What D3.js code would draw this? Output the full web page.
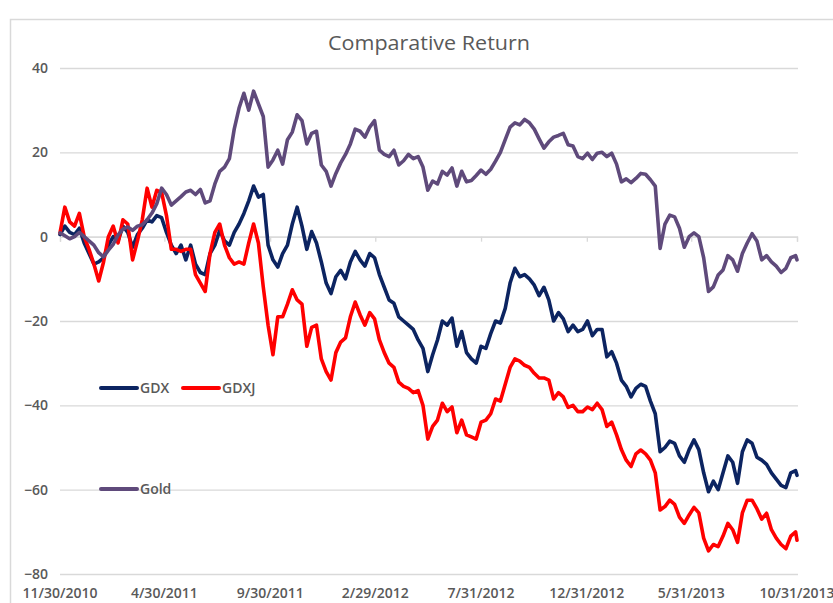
<!DOCTYPE html>
<html>
<head>
<meta charset="utf-8">
<script src="https://cdn.jsdelivr.net/npm/d3@7"></script>
<style>
  html, body { margin: 0; padding: 0; background: #ffffff; }
  svg { display: block; }
  text { font-family: "Open Sans", "Noto Sans", sans-serif; fill: #595959; }
</style>
</head>
<body>
<svg id="chart" width="833" height="603"></svg>
<script>
// ---- Data (weekly readings, % return) ----
const startDate = new Date(2010, 10, 30);
const endDate = new Date(2013, 9, 31);
const dates = d3.range(153).map(i => d3.timeDay.offset(startDate, 7 * i)).concat([endDate]);

const gdx = [
  0.5, 2.5, 1, 0.5, 2, -1.5, -4, -6.5, -6, -5,
  -2, 0, -1, 2.5, 1, -2.5, 0.5, 2, 4, 3.5,
  5, 4.5, 1, -2, -4, -2, -5.5, -2, -6.5, -8.5,
  -9, -4, -2, 1.5, -1, -2, 1, 3, 5.5, 8.5,
  12, 9.4, 10, -2, -5.5, -7.2, -4, -2, 3, 7,
  2.5, -3, 1.2, -1.5, -6, -11, -13.5, -9.5, -8, -10,
  -6, -3.5, -5.5, -7, -4, -5, -9, -12, -15, -15.8,
  -19, -20, -21, -22, -24.5, -26.5, -32, -28, -24.5, -20,
  -21, -19.3, -26, -22.5, -27.5, -29, -30, -26, -26.5, -23,
  -20, -20.5, -17, -11, -7.5, -9.5, -9, -10, -11.5, -14,
  -12, -15, -20, -18, -19.5, -22.5, -21, -22.5, -22, -20,
  -23.5, -22, -22, -28.5, -27.3, -30, -34, -35.5, -38, -36,
  -35, -35.5, -39, -42, -51, -50, -48.5, -49, -52, -53.5,
  -50.5, -48.2, -50.5, -56, -60.5, -58, -60, -56, -52, -53.5,
  -58.5, -51, -48.2, -49, -52.3, -53, -54, -56, -57.5, -59,
  -59.5, -56, -55.5, -56.6
];

const gdxj = [
  0.9, 7, 3.5, 2.5, 5.5, 0, -3, -6.5, -10.5, -6,
  0, 2.5, -1.5, 4, 3, -5.5, -1, 4, 11.5, 7,
  11, 10.5, 5, -3, -3, -3.5, -3, -3, -9, -11,
  -13, -4, 1, 3, -2, -5, -6.5, -6, -6.5, -1.5,
  3, -1.5, -11.9, -21, -28, -19, -19, -16, -12.6, -15,
  -16, -26, -21.5, -21, -29, -32, -34, -27.5, -25, -24,
  -19, -15.5, -18.5, -21, -18, -19.5, -24.5, -27.5, -30, -31,
  -34.5, -35.5, -36, -37, -36.5, -40, -48, -45, -43.5, -39.5,
  -41.5, -40.4, -46.5, -43.5, -47, -47.5, -48, -44, -43.5, -42,
  -38.5, -39, -35, -31, -29, -29.5, -30.5, -31, -32.4, -33.5,
  -33.5, -34, -38.5, -37, -38, -40.5, -40, -41.5, -41.5, -40.4,
  -41, -39.5, -41, -45, -44, -47, -50.5, -53, -54.5, -51.5,
  -50.6, -51.5, -53, -56, -64.8, -64, -62.5, -63.5, -66.5, -68,
  -66, -64.2, -65.5, -71.5, -74.5, -73, -73.5, -71, -68, -69.5,
  -72.5, -65.5, -62.5, -62.5, -64.5, -67, -65.6, -69.5, -71.5, -73,
  -74, -71, -70, -72
];

const gold = [
  0.9, 0.2, -0.5, 0, 1, 0, -1, -2, -3.8, -4.8,
  -3.2, -1.8, 0.4, 1.8, 2.3, 1.5, 2.5, 2.8, 4, 5.6,
  7.8, 11.5, 10, 7.5, 8.5, 9.5, 10.6, 11, 10, 11.2,
  8, 8.5, 12.5, 15.5, 16.5, 18.5, 25.5, 30.5, 34, 30,
  34.5, 31.5, 28.5, 16.5, 18.2, 20.5, 17.2, 23, 24.8, 28.9,
  27.5, 22, 24.5, 25, 17, 15.5, 12, 15, 17.5, 19.5,
  22, 25.5, 25, 23.6, 26, 27.5, 20.5, 19.5, 19, 20.5,
  17, 18, 19.5, 18.5, 19, 16.5, 11, 13.2, 12.5, 15.5,
  14.6, 16.3, 12, 15.5, 13, 13.3, 14.5, 15.8, 14.8, 16,
  17.9, 20, 23, 26, 27, 26.5, 27.8, 27, 25.5, 23.2,
  21, 22.5, 23.6, 24, 24.5, 21.8, 21.5, 19, 18.5, 19.8,
  18.3, 19.8, 20, 19, 19.8, 17.2, 13, 13.7, 12.8, 13.8,
  15, 14.8, 13.5, 12, -2.8, 3, 5.1, 4.7, 2, -2.5,
  0, 0.9, 0, -5, -13, -11.9, -9.1, -7.9, -4.5, -5.5,
  -8.2, -4, -1.5, 0.7, -1, -5.5, -4.5, -6, -7, -8.5,
  -7.5, -5, -4.5, -5.5
];

const yTicks = [40, 20, 0, -20, -40, -60, -80];
const xTickLabels = ["11/30/2010", "4/30/2011", "9/30/2011", "2/29/2012", "7/31/2012", "12/31/2012", "5/31/2013", "10/31/2013"];
const xTickDates = [
  new Date(2010, 10, 30), new Date(2011, 3, 30), new Date(2011, 8, 30), new Date(2012, 1, 29),
  new Date(2012, 6, 31), new Date(2012, 11, 31), new Date(2013, 4, 31), new Date(2013, 9, 31)
];
const seriesNames = ["GDX", "GDXJ", "Gold"];
const seriesColors = ["#0c2461", "#ff0000", "#5f4a7b"];
const title = "Comparative Return";

// ---- Chart ----
const svg = d3.select("#chart");
const plot = { left: 60, right: 797, top: 68, bottom: 574 };

const x = d3.scaleTime().domain([startDate, endDate]).range([plot.left, plot.right]);
const y = d3.scaleLinear().domain([-80, 40]).range([plot.bottom, plot.top]);

// outer border
svg.append("rect")
  .attr("x", 10.5).attr("y", 19.5)
  .attr("width", 900).attr("height", 700)
  .attr("fill", "none").attr("stroke", "#d9d9d9").attr("stroke-width", 1.5);

// title
svg.append("text")
  .attr("x", 429).attr("y", 50)
  .attr("text-anchor", "middle")
  .attr("textLength", 202).attr("lengthAdjust", "spacingAndGlyphs")
  .style("font-size", "20px")
  .text(title);

// gridlines
const yAxis = d3.axisLeft(y).tickValues(yTicks).tickSize(-(plot.right - plot.left + 1)).tickPadding(12)
  .tickFormat(d3.format("d"));
const gy = svg.append("g").attr("transform", `translate(${plot.left},0)`).call(yAxis);
gy.select(".domain").remove();
gy.selectAll(".tick line").attr("stroke", "#d9d9d9").attr("stroke-width", 1.3);
gy.selectAll(".tick text")
  .attr("x", -12)
  .style("font-size", "14px").style("font-weight", "600").attr("fill", "#595959");

// x axis at y = 0 with small ticks
const xAxis = d3.axisBottom(x).tickValues(xTickDates).tickSize(5).tickFormat("");
const gx = svg.append("g").attr("transform", `translate(0,${y(0)})`).call(xAxis);
gx.select(".domain").attr("stroke", "#d9d9d9").attr("stroke-width", 1.3);
gx.selectAll(".tick line").attr("stroke", "#d9d9d9").attr("stroke-width", 1.3);

// x labels at bottom
svg.append("g").selectAll("text")
  .data(xTickDates)
  .join("text")
  .attr("x", d => x(d))
  .attr("y", 598)
  .attr("text-anchor", "middle")
  .style("font-size", "14px").style("font-weight", "600")
  .text((d, i) => xTickLabels[i]);

// lines
const seriesData = [gdx, gdxj, gold];
const line = d3.line()
  .x((d, i) => x(dates[i]))
  .y(d => y(d))
  .curve(d3.curveLinear);

seriesData.forEach((vals, k) => {
  svg.append("path")
    .datum(vals)
    .attr("d", line)
    .attr("fill", "none")
    .attr("stroke", seriesColors[k])
    .attr("stroke-width", 3.6)
    .attr("stroke-linejoin", "round")
    .attr("stroke-linecap", "round");
});

// legend
const legendItems = [
  { name: seriesNames[0], color: seriesColors[0], x: 101, y: 388 },
  { name: seriesNames[1], color: seriesColors[1], x: 183, y: 388 },
  { name: seriesNames[2], color: seriesColors[2], x: 101, y: 489 }
];
const lg = svg.append("g");
legendItems.forEach(it => {
  lg.append("line")
    .attr("x1", it.x).attr("x2", it.x + 36)
    .attr("y1", it.y).attr("y2", it.y)
    .attr("stroke", it.color).attr("stroke-width", 4).attr("stroke-linecap", "round");
  lg.append("text")
    .attr("x", it.x + 39).attr("y", it.y + 5)
    .style("font-size", "14px").style("font-weight", "600")
    .text(it.name);
});
</script>
</body>
</html>
